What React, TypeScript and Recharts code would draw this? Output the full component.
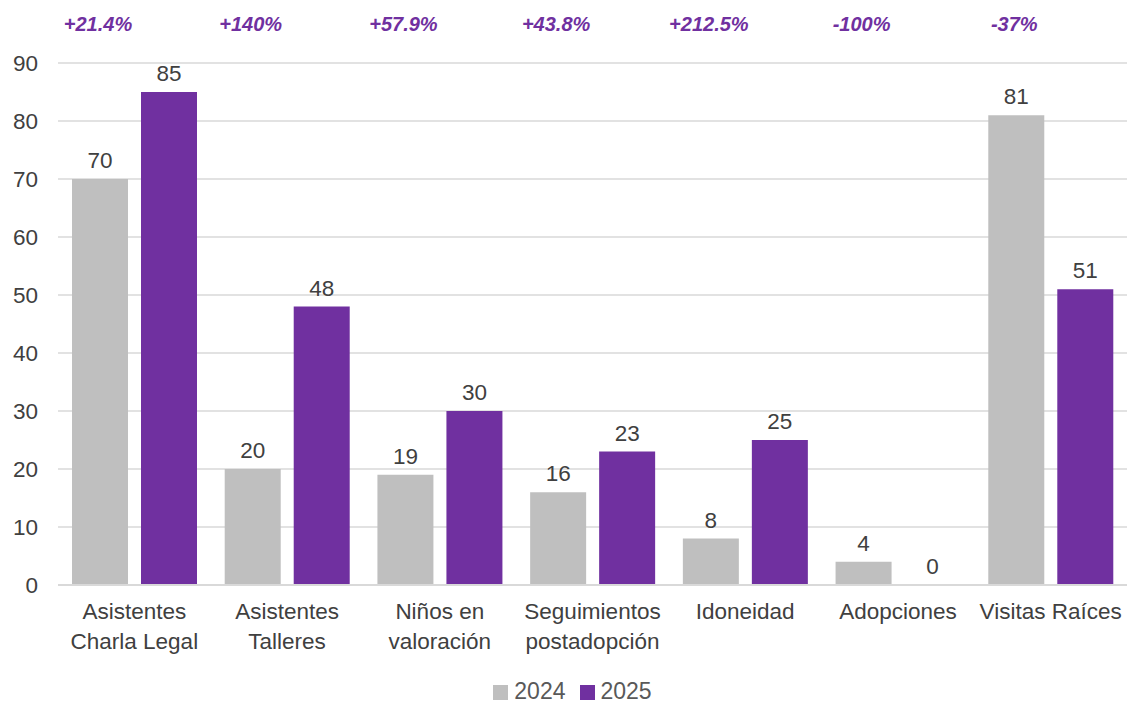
import React from 'react';
import { BarChart, Bar, XAxis, YAxis, CartesianGrid, Legend, LabelList } from 'recharts';

const categories = [
  'Asistentes\nCharla Legal',
  'Asistentes\nTalleres',
  'Niños en\nvaloración',
  'Seguimientos\npostadopción',
  'Idoneidad',
  'Adopciones',
  'Visitas Raíces',
];
const values2024 = [70, 20, 19, 16, 8, 4, 81];
const values2025 = [85, 48, 30, 23, 25, 0, 51];
const changes = ['+21.4%', '+140%', '+57.9%', '+43.8%', '+212.5%', '-100%', '-37%'];
const yTicks = [0, 10, 20, 30, 40, 50, 60, 70, 80, 90];

const data = categories.map((name, i) => ({
  name,
  y2024: values2024[i],
  y2025: values2025[i],
  change: changes[i],
}));

const FONT = '"Liberation Sans", Arial, sans-serif';
const GRAY = '#BFBFBF';
const PURPLE = '#7030A0';
const TEXT = '#404040';
const BAR_GAP = 13;

function CategoryTick(props: any) {
  const { x, y, payload } = props;
  const lines = String(payload.value).split('\n');
  return (
    <text x={x} y={y} textAnchor="middle" fill={TEXT} fontSize={22.5} fontFamily={FONT}>
      {lines.map((line, i) => (
        <tspan key={i} x={x} dy={i === 0 ? 26 : 30}>
          {line}
        </tspan>
      ))}
    </text>
  );
}

function ValueLabel(props: any) {
  const { x, y, width, height, value } = props;
  const top = Math.min(y, y + height);
  return (
    <text x={x + width / 2} y={top - 11} textAnchor="middle" fill={TEXT} fontSize={22.5} fontFamily={FONT}>
      {value}
    </text>
  );
}

// zero-height 2025 bars are not drawn, so their "0" label is placed from the 2024 bar next to them
function ZeroLabel2025(props: any) {
  const { x, y, width, height, index } = props;
  if (values2025[index] !== 0) return null;
  const base = Math.max(y, y + height);
  return (
    <text x={x + width + BAR_GAP + width / 2} y={base - 11} textAnchor="middle" fill={TEXT} fontSize={22.5} fontFamily={FONT}>
      {values2025[index]}
    </text>
  );
}

function ChangeLabel(props: any) {
  const { x, width, index } = props;
  return (
    <text
      x={x + width / 2 - 2}
      y={31}
      textAnchor="middle"
      fill={PURPLE}
      fontSize={20}
      fontWeight="bold"
      fontStyle="italic"
      fontFamily={FONT}
    >
      {changes[index]}
    </text>
  );
}

export default function App() {
  return (
    <div style={{ position: 'absolute', left: 0, top: 0, width: 1127, height: 702, background: '#fff' }}>
      <BarChart
        width={1127}
        height={702}
        data={data}
        margin={{ top: 63, right: 0, left: 0, bottom: 0 }}
        barGap={BAR_GAP}
        barSize={56}
      >
        <CartesianGrid vertical={false} stroke="#D9D9D9" strokeWidth={1.5} />
        <XAxis
          dataKey="name"
          tick={<CategoryTick />}
          tickLine={false}
          axisLine={{ stroke: '#D9D9D9', strokeWidth: 2 }}
          height={95}
          interval={0}
        />
        <YAxis
          domain={[0, 90]}
          ticks={yTicks}
          width={58}
          axisLine={false}
          tickLine={false}
          tickMargin={14}
          tick={{ fill: TEXT, fontSize: 22.5, fontFamily: FONT }}
        />
        <Legend
          verticalAlign="bottom"
          iconType="square"
          iconSize={15}
          wrapperStyle={{ fontFamily: FONT, fontSize: 23, lineHeight: '22px', color: '#595959', bottom: 0, paddingLeft: 16 }}
          formatter={(value: string) => (
            <span style={{ color: '#595959', marginLeft: 2, marginRight: 4 }}>{value}</span>
          )}
        />
        <Bar dataKey="y2024" name="2024" fill={GRAY} isAnimationActive={false}>
          <LabelList dataKey="y2024" content={<ValueLabel />} />
          <LabelList dataKey="y2024" content={<ZeroLabel2025 />} />
          <LabelList dataKey="change" content={<ChangeLabel />} />
        </Bar>
        <Bar dataKey="y2025" name="2025" fill={PURPLE} isAnimationActive={false}>
          <LabelList dataKey="y2025" content={<ValueLabel />} />
        </Bar>
      </BarChart>
    </div>
  );
}
